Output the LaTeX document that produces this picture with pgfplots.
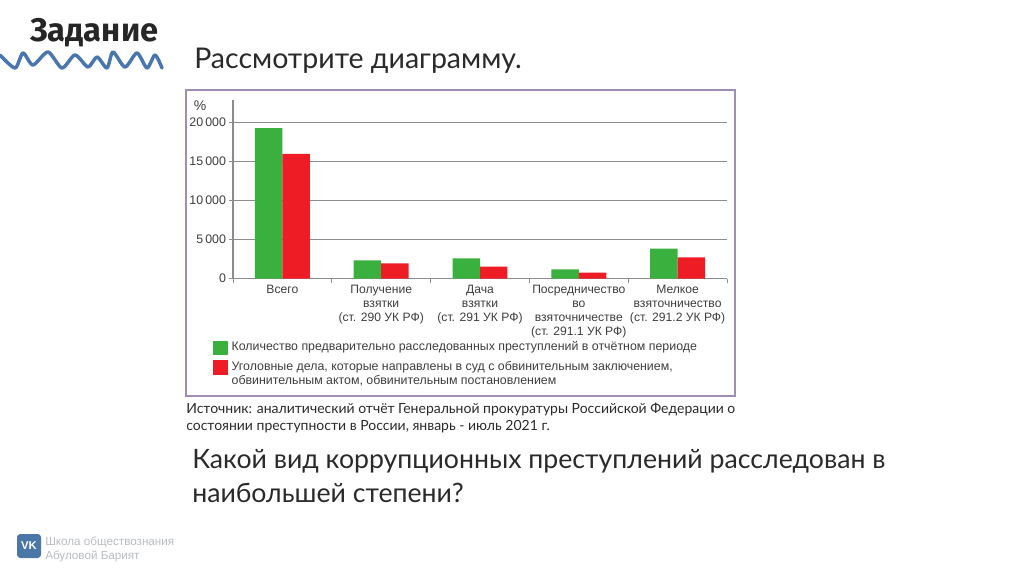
\documentclass[border=0pt]{standalone}
\usepackage{fontspec}
\setmainfont{Liberation Sans}
\newfontfamily\slidefont{Lato}
\newfontfamily\headfont{Fira Sans}
\usepackage{pgfplots}
\pgfplotsset{compat=1.18}
\definecolor{barG}{HTML}{3AB03E}
\definecolor{barR}{HTML}{EE1C25}
\definecolor{frameC}{HTML}{A08DB4}
\definecolor{gridC}{HTML}{8C8C8C}
\definecolor{txtC}{HTML}{3E3E3E}
\definecolor{slideT}{HTML}{2A2A2A}
\definecolor{waveC}{HTML}{4A76B0}
\definecolor{footC}{HTML}{B9BCC0}
\definecolor{vkC}{HTML}{4A76A8}
\begin{document}
\begin{tikzpicture}[x=0.75pt,y=-0.75pt]
\path[use as bounding box,fill=white] (0,0) rectangle (1024,574);
\draw[frameC,line width=1.6pt] (186,90) rectangle (735,396);
\begin{axis}[
  at={(174.75pt,-208.875pt)},anchor=south west,
  scale only axis,width=370.5pt,height=133.9pt,
  xmin=0,xmax=5,ymin=0,ymax=22900,
  axis x line=bottom,axis y line=left,
  axis line style={gridC,line width=1.1pt,-},
  ybar=0pt,bar width=20.6pt,
  xtick={0.5,1.5,2.5,3.5,4.5},
  xticklabels={Всего,{Получение\\взятки\\(ст. 290 УК РФ)},{Дача\\взятки\\(ст. 291 УК РФ)},{Посредничество\\во\\взяточничестве\\(ст. 291.1 УК РФ)},{Мелкое\\взяточничество\\(ст. 291.2 УК РФ)}},
  minor xtick={0,1,2,3,4,5},
  xticklabel style={align=center,font=\fontsize{9.1}{10.5}\selectfont,text=txtC,yshift=1.2pt},
  major x tick style={draw=none},
  minor tick length=3pt,
  minor x tick style={gridC,line width=0.7pt},
  tick align=outside,
  ytick={0,5000,10000,15000,20000},
  y tick style={gridC,line width=0.7pt},
  major tick length=3pt,
  yticklabel style={font=\fontsize{9.3}{11}\selectfont,text=txtC,xshift=1.3pt,/pgf/number format/assume math mode=true},
  /pgf/number format/1000 sep={\,},
  scaled y ticks=false,
  ymajorgrids,
  grid style={gridC,line width=1.1pt},
  clip=false,
  legend style={at={(axis description cs:-0.0405,-0.349)},anchor=north west,draw=none,fill=none,inner sep=0pt,outer sep=0pt,
    row sep=3.6pt,column sep=3pt,
    nodes={inner sep=0pt,anchor=base west}},
  legend cell align=left,
  legend image code/.code={\fill[#1,draw=none] (0pt,-10.35pt) rectangle (11pt,0.65pt);},
]
\addplot[fill=barG,draw=none] coordinates {(0.5,19280) (1.5,2330) (2.5,2590) (3.5,1180) (4.5,3820)};
\addlegendentry{\parbox[t]{400pt}{\fontsize{9.28}{10.5}\selectfont\color{txtC}Количество предварительно расследованных преступлений в отчётном периоде}}
\addplot[fill=barR,draw=none] coordinates {(0.5,15980) (1.5,1950) (2.5,1510) (3.5,750) (4.5,2720)};
\addlegendentry{\parbox[t]{400pt}{\fontsize{9.28}{10.5}\selectfont\color{txtC}Уголовные дела, которые направлены в суд с обвинительным заключением,\\обвинительным актом, обвинительным постановлением}}
\end{axis}
\node[anchor=base,font=\fontsize{10.5}{12}\selectfont,text=txtC] at (200,111) {\%};
% slide text
\node[anchor=base west,inner sep=0pt,font=\slidefont\fontsize{21.4}{24}\selectfont,text=slideT] at (194,69) {Рассмотрите диаграмму.};
\node[anchor=base west,inner sep=0pt,font=\slidefont\fontsize{10.5}{12}\selectfont,text=slideT] at (186,413) {Источник: аналитический отчёт Генеральной прокуратуры Российской Федерации о};
\node[anchor=base west,inner sep=0pt,font=\slidefont\fontsize{10.5}{12}\selectfont,text=slideT] at (186,430) {состоянии преступности в России, январь - июль 2021 г.};
\node[anchor=base west,inner sep=0pt,font=\slidefont\fontsize{20}{24}\selectfont,text=slideT] at (192,468) {Какой вид коррупционных преступлений расследован в};
\node[anchor=base west,inner sep=0pt,font=\slidefont\fontsize{20}{24}\selectfont,text=slideT] at (192,502) {наибольшей степени?};
% header
\node[anchor=base west,inner sep=0pt,font=\headfont\bfseries\fontsize{24.5}{26}\selectfont,text=black!85] at (30,42) {Задание};
\draw[waveC,line width=2.6pt,line cap=round,line join=round] plot[smooth,tension=0.45] coordinates {(0,55) (15,68) (23,53) (33,65) (48,52) (62,68) (75,55) (88,67) (97,57) (107,68) (113,52) (125,67) (137,53) (147,68) (155,55) (162,68)};
% footer
\fill[vkC,rounded corners=2.5pt] (17,534) rectangle (41,558);
\node[font=\bfseries\fontsize{8.5}{10}\selectfont,text=white,inner sep=0pt] at (29,546) {VK};
\node[anchor=base west,inner sep=0pt,font=\fontsize{8.75}{10}\selectfont,text=footC] at (45,545) {Школа обществознания};
\node[anchor=base west,inner sep=0pt,font=\fontsize{8.75}{10}\selectfont,text=footC] at (45,559) {Абуловой Барият};
\end{tikzpicture}
\end{document}
